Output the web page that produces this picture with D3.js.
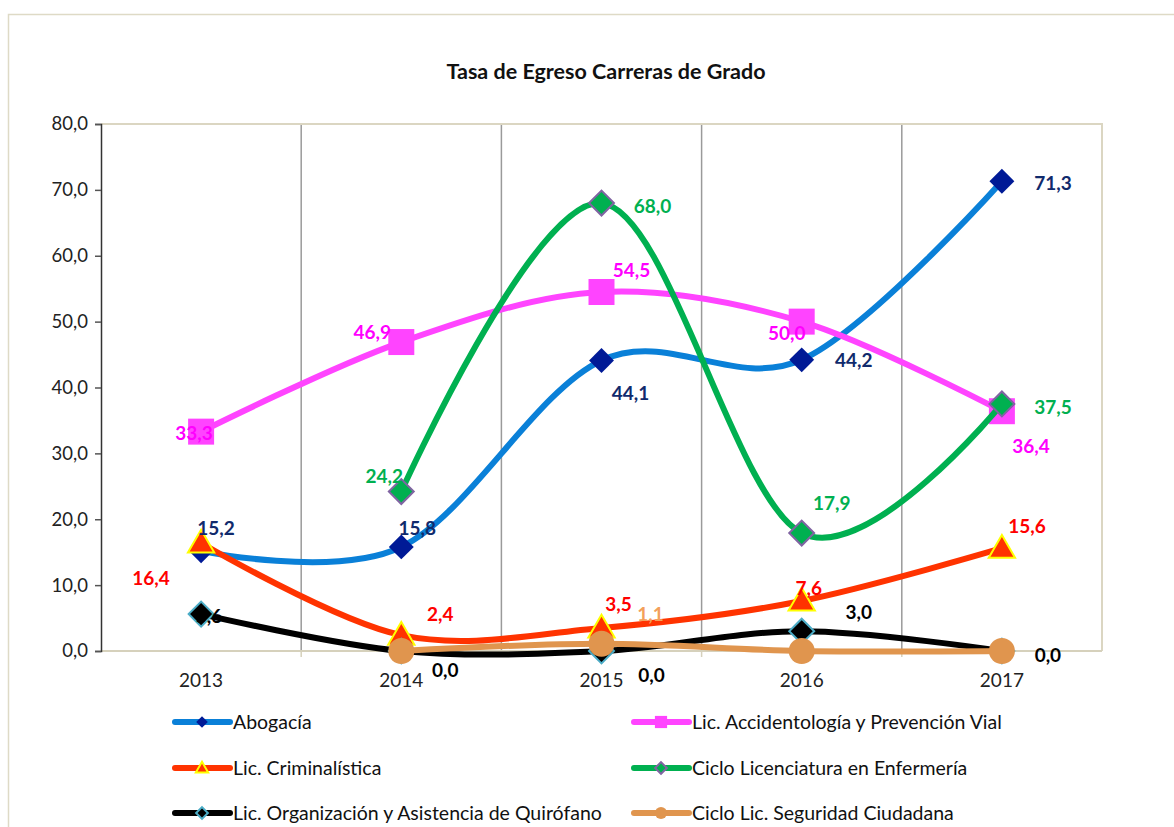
<!DOCTYPE html>
<html>
<head>
<meta charset="utf-8">
<script src="https://cdn.jsdelivr.net/npm/d3@7"></script>
<style>
  body { margin: 0; background: #fff; }
  text { font-family: Lato, "Open Sans", sans-serif; }
</style>
</head>
<body>
<svg id="chart" width="1174" height="827"></svg>
<script>
// data
const years = ["2013", "2014", "2015", "2016", "2017"];
const abogacia = [15.2, 15.8, 44.1, 44.2, 71.3];
const accidentologia = [33.3, 46.9, 54.5, 50.0, 36.4];
const criminalistica = [16.4, 2.4, 3.5, 7.6, 15.6];
const enfermeria = [null, 24.2, 68.0, 17.9, 37.5];
const quirofano = [5.6, 0.0, 0.0, 3.0, 0.0];
const seguridad = [null, 0.0, 1.1, 0.0, 0.0];
const yTicks = [0, 10, 20, 30, 40, 50, 60, 70, 80];

// label offsets (dx, dy) per point, null = no label
const offsets = {
  abogacia: [[15, -23], [16, -19], [29, 33], [52, 1], [51, 2]],
  accidentologia: [[-7, 2], [-29, -10], [30, -22], [-15, 12], [29, 35]],
  criminalistica: [[-50, 35], [39, -21], [17, -24], [7, -13], [25, -22]],
  enfermeria: [null, [-17, -15], [51, 3], [30, -30], [51, 3]],
  quirofano: [[8, 2], [44, 19], [50, 24], [57, -19], [46, 4]],
  seguridad: [null, null, [49, -29], null, null]
};

const series = [
  { key: "abogacia", name: "Abogacía", values: abogacia, line: "#0a80d8",
    symbol: "diamond", size: 310, fill: "#001a96", stroke: "#001a96", sw: 0, label: "#102a6c" },
  { key: "accidentologia", name: "Lic. Accidentología y Prevención Vial", values: accidentologia, line: "#ff44ff",
    symbol: "square", size: 676, fill: "#ff44ff", stroke: "none", sw: 0, label: "#ff00ff" },
  { key: "criminalistica", name: "Lic. Criminalística", values: criminalistica, line: "#ff3300",
    symbol: "triangle", size: 300, fill: "#ff3300", stroke: "#ffff00", sw: 2, label: "#ff0000" },
  { key: "enfermeria", name: "Ciclo Licenciatura en Enfermería", values: enfermeria, line: "#00b050",
    symbol: "diamond", size: 310, fill: "#00b050", stroke: "#8064a2", sw: 2, label: "#00b050" },
  { key: "quirofano", name: "Lic. Organización y Asistencia de Quirófano", values: quirofano, line: "#000000",
    symbol: "diamond", size: 310, fill: "#000000", stroke: "#4bacc6", sw: 2, label: "#000000" },
  { key: "seguridad", name: "Ciclo Lic. Seguridad Ciudadana", values: seguridad, line: "#e0954e",
    symbol: "circle", size: 530, fill: "#e0954e", stroke: "none", sw: 0, label: "#f3a05a" }
];

const svg = d3.select("#chart");
const plot = { left: 101, right: 1102, top: 124, bottom: 651 };

// outer frame
svg.append("rect")
  .attr("x", 8.5).attr("y", 14.5)
  .attr("width", 1170).attr("height", 830)
  .attr("fill", "#fff").attr("stroke", "#dedac6").attr("stroke-width", 1.5);

svg.append("text")
  .attr("x", 606).attr("y", 79)
  .attr("text-anchor", "middle")
  .attr("font-weight", "bold").attr("font-size", 21.5)
  .attr("fill", "#111")
  .text("Tasa de Egreso Carreras de Grado");

const x = d3.scaleBand().domain(years).range([plot.left, plot.right]);
const y = d3.scaleLinear().domain([0, 80]).range([plot.bottom, plot.top]);
const cx = (i) => x(years[i]) + x.bandwidth() / 2;

// vertical gridlines at category boundaries
svg.append("g")
  .selectAll("line")
  .data(years.slice(1))
  .join("line")
  .attr("x1", (d) => x(d)).attr("x2", (d) => x(d))
  .attr("y1", plot.top).attr("y2", plot.bottom)
  .attr("stroke", "#9a9a9a").attr("stroke-width", 1.5);

// plot border (top / right)
svg.append("path")
  .attr("d", `M${plot.left},${plot.top}H${plot.right}V${plot.bottom}`)
  .attr("fill", "none").attr("stroke", "#dbd6c2").attr("stroke-width", 2);

// x axis
const xAxis = svg.append("g").attr("transform", `translate(0,${plot.bottom})`);
xAxis.append("line")
  .attr("x1", plot.left).attr("x2", plot.right)
  .attr("stroke", "#d6d1bc").attr("stroke-width", 2);
xAxis.selectAll("line.tick")
  .data(years.slice(1))
  .join("line")
  .attr("class", "tick")
  .attr("x1", (d) => x(d)).attr("x2", (d) => x(d))
  .attr("y1", 0).attr("y2", 6)
  .attr("stroke", "#d6d1bc").attr("stroke-width", 1.5);
xAxis.selectAll("text")
  .data(years)
  .join("text")
  .attr("x", (d) => x(d) + x.bandwidth() / 2)
  .attr("y", 36)
  .attr("text-anchor", "middle")
  .attr("font-size", 19).attr("fill", "#222")
  .text((d) => d);

// y axis
const yAxis = svg.append("g")
  .attr("transform", `translate(${plot.left},0)`)
  .call(d3.axisLeft(y).tickValues(yTicks).tickSize(6).tickPadding(7)
    .tickFormat((d) => d3.format(".1f")(d).replace(".", ",")));
yAxis.select(".domain").attr("stroke", "#333").attr("stroke-width", 1.5);
yAxis.selectAll(".tick line").attr("stroke", "#555").attr("stroke-width", 1.5);
yAxis.selectAll(".tick text")
  .attr("font-size", 18.5).attr("fill", "#222")
  .attr("font-family", "Lato, sans-serif");

const symbolType = {
  diamond: d3.symbolSquare, square: d3.symbolSquare,
  triangle: d3.symbolTriangle, circle: d3.symbolCircle
};
const symbolTransform = (s, px, py) =>
  s.symbol === "diamond" ? `translate(${px},${py}) rotate(45)`
  : s.symbol === "triangle" ? `translate(${px},${py + 2})`
  : `translate(${px},${py})`;

const line = d3.line()
  .defined((d) => d != null)
  .x((d, i) => cx(i))
  .y((d) => y(d))
  .curve(d3.curveCardinal.tension(0));

const marks = svg.append("g");
series.forEach((s) => {
  const g = marks.append("g");
  g.append("path")
    .datum(s.values)
    .attr("fill", "none")
    .attr("stroke", s.line)
    .attr("stroke-width", 6)
    .attr("stroke-linecap", "round")
    .attr("d", line);
  g.selectAll("path.pt")
    .data(s.values.map((v, i) => ({ v, i })).filter((d) => d.v != null))
    .join("path")
    .attr("class", "pt")
    .attr("transform", (d) => symbolTransform(s, cx(d.i), y(d.v)))
    .attr("d", d3.symbol(symbolType[s.symbol], s.size))
    .attr("fill", s.fill)
    .attr("stroke", s.stroke)
    .attr("stroke-width", s.sw);
});

// data labels
const labels = svg.append("g");
series.forEach((s) => {
  labels.selectAll(null)
    .data(s.values.map((v, i) => ({ v, i, o: offsets[s.key][i] }))
      .filter((d) => d.v != null && d.o))
    .join("text")
    .attr("x", (d) => cx(d.i) + d.o[0])
    .attr("y", (d) => y(d.v) + d.o[1])
    .attr("dy", "0.35em")
    .attr("text-anchor", "middle")
    .attr("font-weight", "bold").attr("font-size", 19)
    .attr("fill", s.label)
    .text((d) => d3.format(".1f")(d.v).replace(".", ","));
});

// legend
const legendCols = [173, 632];
const legendRows = [722, 768, 813];
const legend = svg.append("g");
series.forEach((s, k) => {
  const lx = legendCols[k % 2], ly = legendRows[Math.floor(k / 2)];
  const g = legend.append("g").attr("transform", `translate(${lx},${ly})`);
  g.append("line")
    .attr("x1", 2).attr("x2", 57)
    .attr("stroke", s.line).attr("stroke-width", 6)
    .attr("stroke-linecap", "round");
  g.append("path")
    .attr("transform", symbolTransform(s, 29, 0).replace(/translate\(29,2\)/, "translate(29,1)"))
    .attr("d", d3.symbol(symbolType[s.symbol], s.size * 0.22))
    .attr("fill", s.fill)
    .attr("stroke", s.stroke)
    .attr("stroke-width", s.sw);
  g.append("text")
    .attr("x", 60)
    .attr("dy", "0.35em")
    .attr("font-size", 19.5).attr("fill", "#111")
    .text(s.name);
});
</script>
</body>
</html>
